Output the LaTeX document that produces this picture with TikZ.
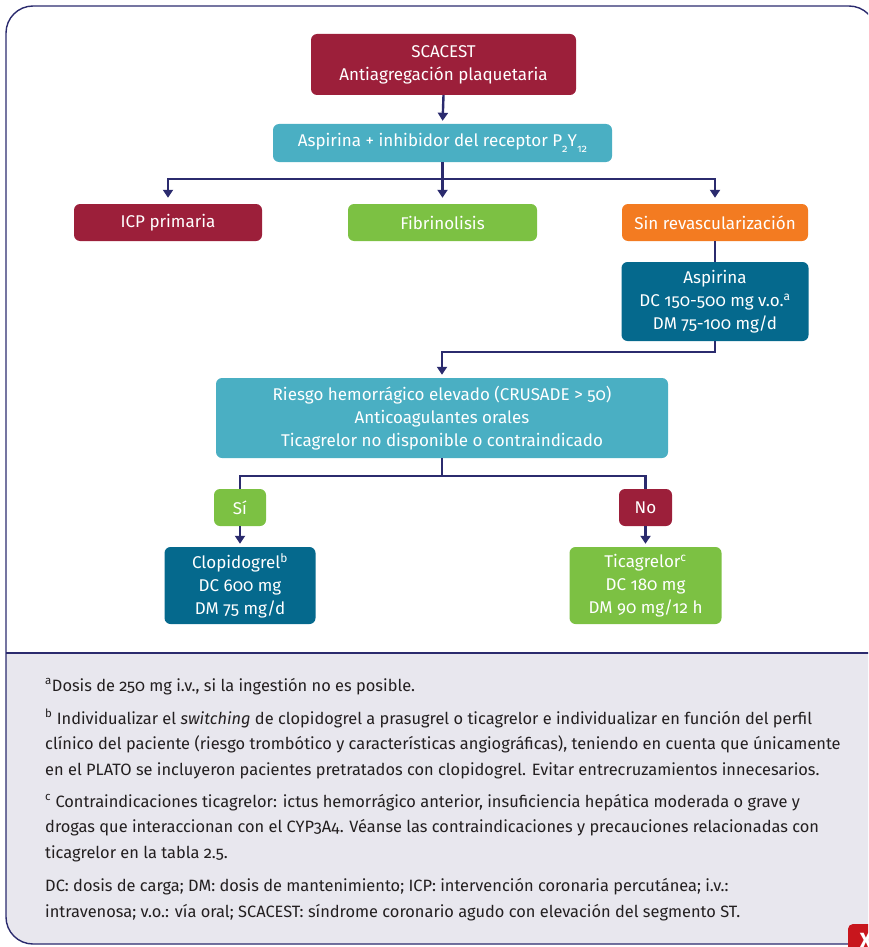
\documentclass[tikz,border=0pt]{standalone}
\usepackage{fontspec}
\setmainfont{Fira Sans}[Numbers=OldStyle]
\usetikzlibrary{arrows.meta}

\definecolor{navy}{HTML}{2B2B6E}
\definecolor{wine}{HTML}{9C1F3A}
\definecolor{aqua}{HTML}{4AAFC3}
\definecolor{leaf}{HTML}{7CC143}
\definecolor{amber}{HTML}{F37B21}
\definecolor{petrol}{HTML}{05698D}
\definecolor{mist}{HTML}{E8E7EE}
\definecolor{ink}{HTML}{231F20}
\definecolor{iconred}{HTML}{C8161D}

\newcommand{\fnmark}[1]{\textsuperscript{#1}}
\newcommand{\lowidx}[1]{\raisebox{-5.5pt}{\fontsize{11}{11}\selectfont #1}}

\tikzset{
  box/.style={rounded corners=6pt, text=white, align=center,
    font=\fontsize{17}{23}\selectfont, inner sep=0pt},
  conn/.style={draw=navy, line width=2.4pt},
  arr/.style={conn, -{Triangle[width=10pt,length=8pt]}, shorten >=3pt},
  note/.style={anchor=base west, align=left, inner sep=0pt, text=ink,
    font=\fontsize{16.4}{25.5}\selectfont}
}

\begin{document}
\begin{tikzpicture}[x=1pt,y=-1pt]
\useasboundingbox (0,0) rectangle (868,947);

% outer panel with grey footer
\begin{scope}
  \clip (0,0) rectangle (868,947);
  \fill[mist] (6,653) [rounded corners=27] -- (6,944) -- (876,944) [sharp corners] -- (876,653) -- cycle;
  \draw[navy, line width=1.4pt] (6,653) -- (876,653);
  \draw[navy, line width=1.4pt, rounded corners=27] (6,6) rectangle (876,944);
  \fill[iconred, rounded corners=5] (848,924) rectangle (884,960);
  \node[text=white, font=\bfseries\fontsize{22}{22}\selectfont, inner sep=0pt] (closemark) at (866,941) {X};
\end{scope}

% flow boxes
\node[box, fill=wine, minimum width=265pt, minimum height=61pt] (scacest) at (443.5,64.5) {SCACEST\\Antiagregación plaquetaria};
\node[box, fill=aqua, minimum width=339pt, minimum height=38pt] (dual) at (442.5,143) {Aspirina + inhibidor del receptor P\lowidx{2}Y\lowidx{12}};
\node[box, fill=wine, minimum width=188pt, minimum height=37pt] (icp) at (168,222.5) {ICP primaria};
\node[box, fill=leaf, minimum width=189pt, minimum height=37pt] (fibri) at (442.5,222.5) {Fibrinolisis};
\node[box, fill=amber, minimum width=186pt, minimum height=37pt] (sinrev) at (715,222.5) {Sin revascularización};
\node[box, fill=petrol, minimum width=187pt, minimum height=79pt] (aspirina) at (715,301.5) {Aspirina\\DC 150-500 mg v.o.\fnmark{a}\\DM 75-100 mg/d};
\node[box, fill=aqua, minimum width=452pt, minimum height=80pt] (riesgo) at (442,418) {Riesgo hemorrágico elevado (CRUSADE > 50)\\Anticoagulantes orales\\Ticagrelor no disponible o contraindicado};
\node[box, fill=leaf, minimum width=52pt, minimum height=37pt] (si) at (240,507.5) {Sí};
\node[box, fill=wine, minimum width=53pt, minimum height=37pt] (no) at (645.5,507.5) {No};
\node[box, fill=petrol, minimum width=151pt, minimum height=77pt] (clopi) at (240,585.5) {Clopidogrel\fnmark{b}\\DC 600 mg\\DM 75 mg/d};
\node[box, fill=leaf, minimum width=152pt, minimum height=77pt] (tica) at (645.5,585.5) {Ticagrelor\fnmark{c}\\DC 180 mg\\DM 90 mg/12 h};

% junction points
\coordinate (split1) at (442.5,179);
\coordinate (turn) at (442,352);
\coordinate (split2) at (442,476);

% connectors
\draw[arr] (scacest.south) -- (dual.north);
\draw[arr, shorten >=6pt] (dual.south) -- (fibri.north);
\draw[arr, shorten >=6pt] (split1) -| (icp.north);
\draw[arr, shorten >=6pt] (split1) -| (sinrev.north);
\draw[conn] (sinrev.south) -- (aspirina.north);
\draw[arr] (aspirina.south) |- (turn) -- (riesgo.north);
\draw[conn] (riesgo.south) -- (split2);
\draw[conn] (split2) -| (si.north);
\draw[conn] (split2) -| (no.north);
\draw[arr] (si.south) -- (clopi.north);
\draw[arr] (no.south) -- (tica.north);

% footnotes (each anchored at the baseline of its last line)
\node[note] (fa) at (45,691) {\fnmark{a}Dosis de 250 mg i.v., si la ingestión no es posible.};
\node[note] (fb) at (45,775) {\fnmark{b} Individualizar el \textit{switching} de clopidogrel a prasugrel o ticagrelor e individualizar en función del perfil\\clínico del paciente (riesgo trombótico y características angiográficas), teniendo en cuenta que únicamente\\en el PLATO se incluyeron pacientes pretratados con clopidogrel. Evitar entrecruzamientos innecesarios.};
\node[note] (fc) at (45,858) {\fnmark{c} Contraindicaciones ticagrelor: ictus hemorrágico anterior, insuficiencia hepática moderada o grave y\\drogas que interaccionan con el CYP3A4. Véanse las contraindicaciones y precauciones relacionadas con\\ticagrelor en la tabla 2.5.};
\node[note] (fd) at (45,917) {DC: dosis de carga; DM: dosis de mantenimiento; ICP: intervención coronaria percutánea; i.v.:\\intravenosa; v.o.: vía oral; SCACEST: síndrome coronario agudo con elevación del segmento ST.};
\end{tikzpicture}
\end{document}
